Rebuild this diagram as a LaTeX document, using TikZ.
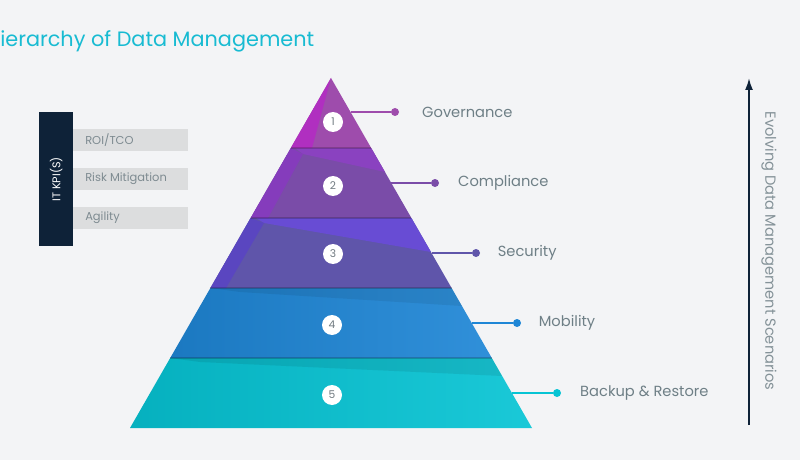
\documentclass[tikz,border=0pt]{standalone}
\usepackage{fontspec}
\setmainfont{Poppins}
\usetikzlibrary{positioning}
\usetikzlibrary{arrows.meta}

\definecolor{bgcol}{HTML}{F3F4F6}
\definecolor{titlecol}{HTML}{18BBD2}
\definecolor{navy}{HTML}{0E2238}
\definecolor{bargray}{HTML}{DCDDDE}
\definecolor{bartext}{HTML}{7E8B91}
\definecolor{labgray}{HTML}{6E7F86}
\definecolor{numgray}{HTML}{707A80}
\definecolor{cone}{HTML}{9E4CAC}
\definecolor{conef}{HTML}{B02FC0}
\definecolor{ctwo}{HTML}{7A4CA8}
\definecolor{ctwoa}{HTML}{8A42C0}
\definecolor{ctwob}{HTML}{853CBC}
\definecolor{cthree}{HTML}{5F55AA}
\definecolor{cthreea}{HTML}{684CD4}
\definecolor{cthreeb}{HTML}{5A46C0}
\definecolor{cfour}{HTML}{1E86D6}
\definecolor{cfive}{HTML}{06C4D4}

\begin{document}
\begin{tikzpicture}[x=0.75pt,y=-0.75pt,
numnode/.style={circle, fill=white, minimum size=15pt, inner sep=0pt, text=numgray, font=\fontsize{8}{9}\selectfont},
dotnode/.style={circle, fill=#1, minimum size=6pt, inner sep=0pt},
lead/.style={draw=#1, line width=1.5pt},
lvlname/.style={text=labgray, inner sep=0pt, font=\fontsize{11}{13}\selectfont},
kpibar/.style={fill=bargray, minimum width=87pt, minimum height=16.5pt, inner sep=0pt, anchor=north west},
kpitext/.style={text=bartext, inner sep=0pt, anchor=west, font=\fontsize{8.6}{10}\selectfont}
]
\fill[bgcol] (0,0) rectangle (800,460);
\useasboundingbox (0,0) rectangle (800,460);

%Title
\node[anchor=west, inner sep=0pt, text=titlecol, font=\fontsize{15.6}{18}\selectfont] (title) at (0,41) {ierarchy of Data Management};

%Pyramid
\shade[left color=cfive!90!black, right color=cfive!92!white] (130,428) -- (170.2,358) -- (491.8,358) -- (532,428) -- cycle;
\fill[black, opacity=0.08] (170.2,358) -- (491.8,358) -- (502,376) -- (200,362) -- cycle;
\shade[left color=cfour!90!black, right color=cfour!92!white] (170.2,358) -- (210.4,288) -- (451.6,288) -- (491.8,358) -- cycle;
\fill[black, opacity=0.07] (210.4,288) -- (451.6,288) -- (462,306) -- (240,292) -- cycle;
\fill[cthree] (210.4,288) -- (250.6,218) -- (411.4,218) -- (451.6,288) -- cycle;
\fill[cthreea] (256,218) -- (411.4,218) -- (431,252) -- (264,223) -- cycle;
\fill[cthreeb] (250.6,218) -- (264,223) -- (226,288) -- (210.4,288) -- cycle;
\fill[ctwo] (250.6,218) -- (290.8,148) -- (371.2,148) -- (411.4,218) -- cycle;
\fill[ctwoa] (295,148) -- (371.2,148) -- (385,172) -- (303,154) -- cycle;
\fill[ctwob] (290.8,148) -- (303,154) -- (268,218) -- (250.6,218) -- cycle;
\fill[cone] (290.8,148) -- (331,78) -- (371.2,148) -- cycle;
\fill[conef] (290.8,148) -- (331,78) -- (312,148) -- cycle;
% thin shadows between layers
\foreach \ya/\xa/\xb in {148/290.8/371.2, 218/250.6/411.4, 288/210.4/451.6, 358/170.2/491.8}
  \draw[black, opacity=0.18, line width=0.8pt] (\xa,\ya) -- (\xb,\ya);

%Nodes
\node[numnode] (n1) at (333,122) {1};
\node[numnode] (n2) at (333,186) {2};
\node[numnode] (n3) at (333,254) {3};
\node[numnode] (n4) at (332,325) {4};
\node[numnode] (n5) at (332,395) {5};

\coordinate (e1) at (350.5,112);
\coordinate (e2) at (391.3,183);
\coordinate (e3) at (431.5,253);
\coordinate (e4) at (471.7,323);
\coordinate (e5) at (511.9,393);

\node[dotnode=cone]   (d1) at (395,112) {};
\node[dotnode=ctwo]   (d2) at (435,183) {};
\node[dotnode=cthree] (d3) at (476,253) {};
\node[dotnode=cfour]  (d4) at (517,323) {};
\node[dotnode=cfive]  (d5) at (557,393) {};

\node[lvlname, right=17pt of d1] (l1) {Governance};
\node[lvlname, right=14pt of d2] (l2) {Compliance};
\node[lvlname, right=13pt of d3] (l3) {Security};
\node[lvlname, right=13pt of d4] (l4) {Mobility};
\node[lvlname, right=14pt of d5] (l5) {Backup \& Restore};

%Lines
\draw[lead=cone] (e1) -- (d1);
\draw[lead=ctwo] (e2) -- (d2);
\draw[lead=cthree] (e3) -- (d3);
\draw[lead=cfour] (e4) -- (d4);
\draw[lead=cfive] (e5) -- (d5);

%KPIs
\node[kpibar] (b1) at (72,129) {};
\node[kpibar] (b2) at (72,168) {};
\node[kpibar] (b3) at (72,207) {};
\node[kpitext] (k1) at (85,140) {ROI/TCO};
\node[kpitext] (k2) at (85,179) {Risk Mitigation};
\node[kpitext] (k3) at (85,218) {Agility};
\node[fill=navy, minimum width=25.5pt, minimum height=100.5pt, inner sep=0pt, anchor=north west] (kpi) at (39,112) {};
\node[rotate=90, text=white, inner sep=0pt, font=\fontsize{8.4}{10}\selectfont] (kpilab) at (kpi.center) {IT KPI(S)};

%Arrow
\coordinate (abot) at (749,425);
\coordinate (atop) at (749,78);
\draw[navy, line width=1.4pt, -{Latex[length=9pt,width=6pt]}] (abot) -- (atop);
\node[rotate=-90, text=labgray!85!white, inner sep=0pt, font=\fontsize{11}{13}\selectfont] (evo) at (769,251) {Evolving Data Management Scenarios};

\end{tikzpicture}
\end{document}
